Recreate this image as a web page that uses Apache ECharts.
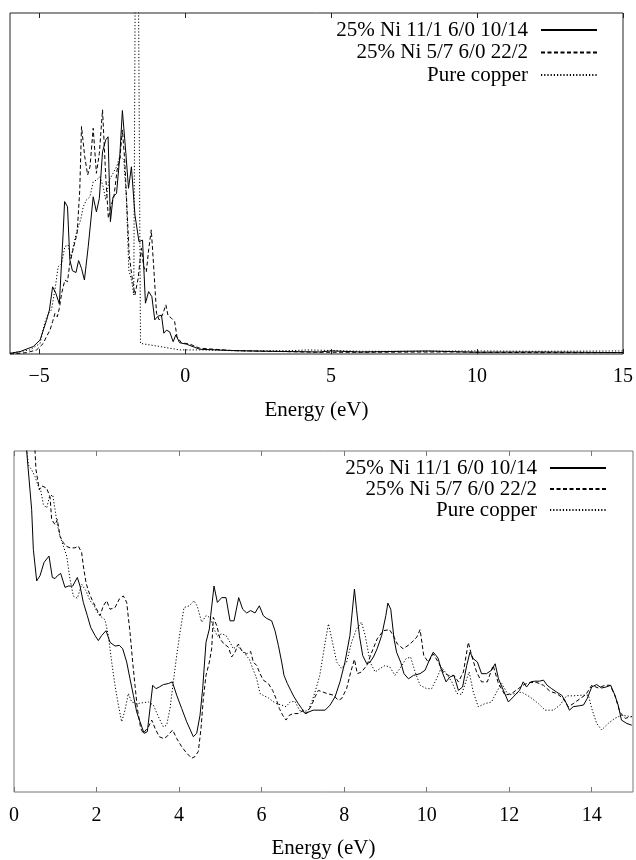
<!DOCTYPE html>
<html><head><meta charset="utf-8">
<script src="https://cdn.jsdelivr.net/npm/echarts@6/dist/echarts.min.js"></script>
<style>html,body{margin:0;padding:0;background:#fff}#c{width:636px;height:860px}</style>
</head><body><div id="c"></div>
<script>
const seriesNames = ['25% Ni 11/1 6/0 10/14', '25% Ni 5/7 6/0 22/2', 'Pure copper'];
const axisTitle = 'Energy (eV)';
const topTicks = [-5, 0, 5, 10, 15];
const bottomTicks = [0, 2, 4, 6, 8, 10, 12, 14];

// ---- Top panel ----
const topSolidE = [-6.0,-5.66,-5.20,-4.97,-4.86,-4.75,-4.65,-4.54,-4.43,-4.31,-4.18,-4.13,-4.03,-3.95,-3.86,-3.74,-3.65,-3.55,-3.45,-3.32,-3.15,-3.04,-2.94,-2.83,-2.72,-2.64,-2.56,-2.47,-2.35,-2.24,-2.15,-2.03,-1.94,-1.84,-1.72,-1.58,-1.46,-1.36,-1.25,-1.14,-1.04,-0.93,-0.81,-0.73,-0.64,-0.53,-0.41,-0.32,-0.19,0.04,0.5,1.64,2.78,4.6,5.0,6.0,8.3,10.0,12.0,15.0];
const topSolidV = [0.2,0.7,2.2,4.1,7.0,9.8,12.9,19.7,17.8,14.7,35.4,44.7,43.2,27.6,24.4,23.9,27.4,25.1,21.7,31.5,46.1,41.7,45.6,59.3,62.8,63.7,38.8,46.1,47.1,57.9,71.4,58.8,48.6,54.9,40.8,32.9,33.4,14.9,18.3,16.8,10.0,11.1,11.4,6.1,7.0,6.5,3.6,5.6,3.3,2.9,1.4,1.0,0.8,0.6,0.9,0.6,0.9,0.5,0.6,0.4];

const topDashE = [-6.0,-5.43,-5.09,-4.86,-4.75,-4.63,-4.54,-4.46,-4.38,-4.31,-4.23,-4.12,-4.03,-3.95,-3.83,-3.70,-3.61,-3.55,-3.44,-3.34,-3.26,-3.15,-3.04,-2.94,-2.83,-2.72,-2.63,-2.55,-2.44,-2.33,-2.24,-2.15,-2.07,-2.01,-1.92,-1.84,-1.72,-1.61,-1.50,-1.42,-1.33,-1.25,-1.16,-1.06,-0.98,-0.89,-0.78,-0.66,-0.59,-0.47,-0.36,-0.28,-0.13,0.16,0.5,1.64,4.6,6.0,9.0,12.0,15.0];
const topDashV = [0,0.4,1.2,3.1,5.1,7.0,9.5,11.9,10.9,13.4,17.8,21.7,21.2,26.6,31.0,35.4,48.1,66.7,57.9,52.5,54.9,66.2,53.0,58.8,71.6,52.0,39.8,43.2,46.1,54.0,56.9,65.7,56.9,46.1,29.5,23.7,17.3,22.2,31.0,25.6,24.1,30.5,36.4,23.2,11.9,10.0,11.4,14.4,11.4,10.5,9.5,5.1,3.3,2.9,1.7,1.0,0.5,0.5,0.6,0.4,0.4];

const topDotE = [-6.0,-5.32,-4.97,-4.80,-4.69,-4.58,-4.46,-4.35,-4.23,-4.12,-4.01,-3.91,-3.81,-3.70,-3.58,-3.49,-3.38,-3.26,-3.15,-3.04,-2.92,-2.81,-2.72,-2.60,-2.47,-2.35,-2.24,-2.10,-2.01,-1.93,-1.84,-1.76,-1.66,-1.53,-0.87,-0.19,0.5,2.0,3.7,4.2,6.0,8.0,10.0,12.0,15.0];
const topDotV = [0.2,1.2,3.1,9.5,11.9,12.9,18.8,25.6,26.6,31.5,32.0,28.1,32.5,36.4,39.3,43.2,45.2,46.1,50.5,51.0,52.0,49.1,45.2,51.0,53.0,54.9,57.9,57.0,45.2,24.6,21.7,17.3,200,3.1,2.2,1.2,1.2,0.9,1.0,1.2,0.8,0.8,0.9,0.8,0.9];

// ---- Bottom panel ----
const botSolidE = [0.27,0.307,0.428,0.469,0.550,0.630,0.727,0.848,0.929,0.994,1.050,1.131,1.236,1.317,1.422,1.535,1.600,1.680,1.777,1.858,1.963,2.044,2.125,2.230,2.327,2.448,2.553,2.634,2.731,2.811,2.892,2.973,3.054,3.151,3.231,3.296,3.361,3.441,3.522,3.619,3.740,3.837,3.942,4.063,4.184,4.346,4.427,4.508,4.572,4.653,4.734,4.766,4.847,4.928,5.033,5.138,5.235,5.332,5.445,5.542,5.638,5.735,5.840,5.945,6.042,6.123,6.244,6.325,6.406,6.487,6.543,6.624,6.705,6.786,6.890,6.971,7.052,7.09,7.25,7.54,7.66,7.78,7.90,8.02,8.14,8.25,8.30,8.37,8.45,8.55,8.63,8.71,8.80,8.91,9.01,9.06,9.13,9.21,9.27,9.37,9.45,9.56,9.68,9.84,9.96,10.08,10.16,10.23,10.28,10.36,10.47,10.56,10.66,10.77,10.87,10.97,11.05,11.13,11.23,11.33,11.45,11.57,11.66,11.74,11.86,11.98,12.10,12.25,12.34,12.42,12.52,12.62,12.73,12.83,12.92,13.03,13.15,13.27,13.35,13.46,13.55,13.70,13.80,13.89,14.00,14.12,14.24,14.35,14.46,14.56,14.64,14.72,14.85,14.97];
const botSolidV = [106,100,82.8,71.1,61.9,63.4,67.3,69.2,62.9,62.6,63.4,64.1,60.0,60.4,60.4,62.9,60.4,55.6,51.7,48.3,45.9,44.4,45.9,47.3,43.9,42.8,43.0,42.0,38.1,33.2,28.4,23.5,20.6,17.2,17.7,24.5,31.3,30.3,30.8,31.5,31.8,32.3,28.4,24.5,20.6,16.2,17.2,22.5,30.3,43.9,47.8,51.7,60.4,55.6,57.0,57.0,50.2,50.2,57.0,53.6,52.5,53.2,52.5,54.6,51.7,50.9,50.2,47.3,43.0,38.1,34.2,31.8,29.8,27.9,25.9,24.5,23.0,22.5,24.0,24.0,25.5,27.9,32.3,38.1,45.9,59.5,53.6,45.9,40.0,37.6,38.1,39.6,42.0,45.9,51.7,55.4,53.6,44.9,41.0,38.1,34.7,33.2,34.2,34.7,35.7,39.1,41.0,40.0,39.1,35.7,32.3,33.7,34.2,29.8,30.8,37.1,41.0,39.1,38.1,34.7,34.7,35.7,37.6,33.2,29.8,26.4,27.9,29.8,32.3,30.8,32.3,32.5,32.5,32.8,31.3,30.3,29.3,28.4,26.9,24.0,25.0,25.3,25.5,27.4,30.8,31.5,30.5,30.8,31.3,28.4,25.5,21.1,20.1,19.6];

const botDashE = [0.49,0.509,0.533,0.614,0.671,0.792,0.873,0.913,0.994,1.050,1.115,1.196,1.260,1.357,1.478,1.559,1.640,1.680,1.745,1.802,1.882,2.004,2.084,2.165,2.246,2.327,2.448,2.553,2.650,2.731,2.811,2.876,2.932,2.989,3.070,3.134,3.256,3.337,3.417,3.522,3.619,3.700,3.845,3.942,4.063,4.184,4.306,4.386,4.467,4.532,4.588,4.653,4.734,4.790,4.831,4.912,4.992,5.089,5.194,5.275,5.356,5.437,5.517,5.638,5.735,5.800,5.881,5.962,6.042,6.164,6.268,6.349,6.430,6.511,6.592,6.672,6.769,6.890,7.012,7.092,7.214,7.295,7.375,7.58,7.74,7.86,7.94,8.06,8.16,8.25,8.32,8.42,8.55,8.67,8.80,8.95,9.10,9.19,9.29,9.43,9.60,9.76,9.84,9.93,10.04,10.16,10.28,10.40,10.52,10.66,10.77,10.89,11.01,11.09,11.21,11.33,11.47,11.61,11.74,11.90,12.06,12.22,12.36,12.50,12.67,12.83,12.99,13.15,13.31,13.43,13.55,13.72,13.86,14.00,14.16,14.32,14.44,14.56,14.68,14.81,14.97];
const botDashV = [108,100,94.5,88.6,89.8,89.1,86.5,79.9,78.4,79.9,75.0,73.1,72.1,71.6,71.6,72.1,70.2,66.3,61.4,59.0,56.6,53.6,51.7,54.6,56.1,53.6,54.1,56.6,57.5,55.6,46.8,38.1,31.3,24.5,18.7,17.2,19.1,21.1,18.7,16.2,15.7,16.2,18.2,15.7,13.3,11.4,9.9,10.4,11.9,18.7,27.4,34.2,38.1,42.0,51.2,48.8,44.9,43.4,42.5,39.6,41.0,43.4,41.5,40.5,41.2,38.1,37.1,34.7,32.8,31.8,29.8,27.4,24.5,22.5,21.1,22.5,23.0,23.0,24.0,23.0,25.5,27.9,29.8,28.9,28.4,26.9,27.4,30.3,35.2,38.9,34.7,35.2,37.1,41.0,44.9,47.3,47.6,45.9,43.4,42.0,43.4,45.4,47.6,40.0,38.1,40.5,38.1,35.2,34.2,34.2,32.3,35.2,43.9,40.0,35.2,32.3,32.3,37.1,31.8,28.4,28.9,30.3,31.5,32.1,32.1,31.3,29.5,28.9,27.4,25.0,25.9,27.4,28.6,31.3,30.5,31.3,31.3,28.4,23.5,21.6,22.1];

const botDotE = [0.25,0.348,0.428,0.509,0.590,0.646,0.711,0.792,0.857,0.937,0.994,1.050,1.115,1.196,1.277,1.357,1.438,1.535,1.640,1.745,1.842,1.939,2.020,2.100,2.206,2.286,2.367,2.448,2.529,2.609,2.690,2.771,2.852,2.973,3.134,3.256,3.377,3.498,3.619,3.700,3.781,3.861,3.942,4.023,4.120,4.249,4.362,4.443,4.548,4.653,4.750,4.847,4.928,5.033,5.138,5.235,5.315,5.412,5.493,5.598,5.703,5.784,5.881,5.962,6.059,6.164,6.268,6.365,6.487,6.592,6.689,6.810,6.915,7.012,7.133,7.214,7.295,7.41,7.54,7.62,7.70,7.82,7.94,8.06,8.18,8.30,8.42,8.51,8.63,8.75,8.87,8.99,9.11,9.23,9.35,9.50,9.61,9.72,9.84,10.00,10.12,10.24,10.36,10.48,10.61,10.73,10.85,10.97,11.03,11.13,11.25,11.41,11.57,11.74,11.82,11.98,12.14,12.30,12.50,12.71,12.87,13.07,13.23,13.39,13.55,13.76,13.92,14.00,14.12,14.24,14.40,14.56,14.72,14.97];
const botDotV = [108,95.9,94.5,92.5,89.6,88.6,84.3,83.3,86.5,87.2,82.8,78.4,75.0,72.1,69.2,62.4,57.5,56.8,60.9,59.0,56.1,54.6,52.7,51.5,50.5,45.9,38.1,31.3,25.5,20.6,24.0,28.9,26.4,25.9,26.2,26.4,25.5,22.1,19.1,19.6,24.5,32.3,40.0,46.8,54.1,54.6,56.1,54.4,49.8,51.7,51.2,47.8,45.7,46.4,45.9,43.9,42.0,42.9,41.8,40.5,38.9,36.3,33.2,28.9,28.2,27.6,26.6,25.9,25.5,25.0,26.4,26.6,24.0,23.5,24.0,26.4,29.3,34.2,43.9,49.3,44.9,38.1,36.2,38.1,43.9,47.8,49.8,45.9,38.1,35.2,36.2,37.1,36.6,34.2,36.2,39.1,39.6,35.2,31.3,30.3,30.3,33.2,36.6,34.7,32.3,28.9,28.6,33.2,35.2,29.3,25.0,25.9,26.4,30.3,31.8,28.4,28.9,29.3,27.9,25.9,24.0,24.0,25.5,28.2,28.2,28.4,28.4,24.5,20.1,18.2,20.1,21.6,22.5,22.1];

const zip = (a, b) => a.map((x, i) => [x, b[i]]);
const serif = 'Liberation Serif, Times New Roman, serif';
const lineTypes = ['solid', [4, 2.5], [1.2, 2]];
const minus = v => String(v).replace('-', '\u2212');

function mkX(grid, min, max, ticks, frameColor, labelMargin, nameGap) {
  return [
    { gridIndex: grid, type: 'value', min, max, position: 'bottom',
      axisLine: { show: false }, splitLine: { show: false },
      axisTick: { inside: true, length: 5, customValues: ticks, lineStyle: { color: frameColor } },
      axisLabel: { customValues: ticks, margin: labelMargin, fontFamily: serif, fontSize: 20, color: '#000', formatter: minus },
      name: axisTitle, nameLocation: 'middle', nameGap,
      nameTextStyle: { fontFamily: serif, fontSize: 21, color: '#000' } },
    { gridIndex: grid, type: 'value', min, max, position: 'top',
      axisLine: { show: false }, splitLine: { show: false },
      axisTick: { inside: true, length: 5, customValues: ticks, lineStyle: { color: frameColor } },
      axisLabel: { show: false } }
  ];
}
function mkY(grid) {
  return { gridIndex: grid, type: 'value', min: 0, max: 100,
    axisLine: { show: false }, axisTick: { show: false }, axisLabel: { show: false }, splitLine: { show: false } };
}
function mkSeries(name, data, idx, xi, yi) {
  return { name, type: 'line', data, xAxisIndex: xi, yAxisIndex: yi, symbol: 'none', clip: true,
    itemStyle: { color: '#000' },
    lineStyle: { color: '#000', width: 1, type: lineTypes[idx] }, animation: false };
}
function mkLegend(top, right, gap) {
  return { data: seriesNames, orient: 'vertical', align: 'right', top, right, padding: 0,
    itemWidth: 56, itemHeight: 10, itemGap: gap, selectedMode: false,
    itemStyle: { opacity: 0 },
    textStyle: { fontFamily: serif, fontSize: 21, color: '#000', lineHeight: 22, padding: [0, 8, 0, 0] } };
}

const chart = echarts.init(document.getElementById('c'), null, { renderer: 'canvas' });
chart.setOption({
  animation: false,
  backgroundColor: '#fff',
  grid: [
    { left: 10, top: 13, width: 614, height: 341, show: true, borderColor: '#222', borderWidth: 1 },
    { left: 14, top: 451, width: 619, height: 343, show: true, borderColor: '#777', borderWidth: 1 }
  ],
  xAxis: [...mkX(0, -6, 15, topTicks, '#222', 13, 46), ...mkX(1, 0, 15, bottomTicks, '#777', 14, 46)],
  yAxis: [mkY(0), mkY(1)],
  legend: [mkLegend(19, 38, 0.5), mkLegend(457, 29, -1)],
  series: [
    mkSeries(seriesNames[0], zip(topSolidE, topSolidV), 0, 0, 0),
    mkSeries(seriesNames[1], zip(topDashE, topDashV), 1, 0, 0),
    mkSeries(seriesNames[2], zip(topDotE, topDotV), 2, 0, 0),
    mkSeries(seriesNames[0], zip(botSolidE, botSolidV), 0, 2, 1),
    mkSeries(seriesNames[1], zip(botDashE, botDashV), 1, 2, 1),
    mkSeries(seriesNames[2], zip(botDotE, botDotV), 2, 2, 1)
  ]
});
</script></body></html>
